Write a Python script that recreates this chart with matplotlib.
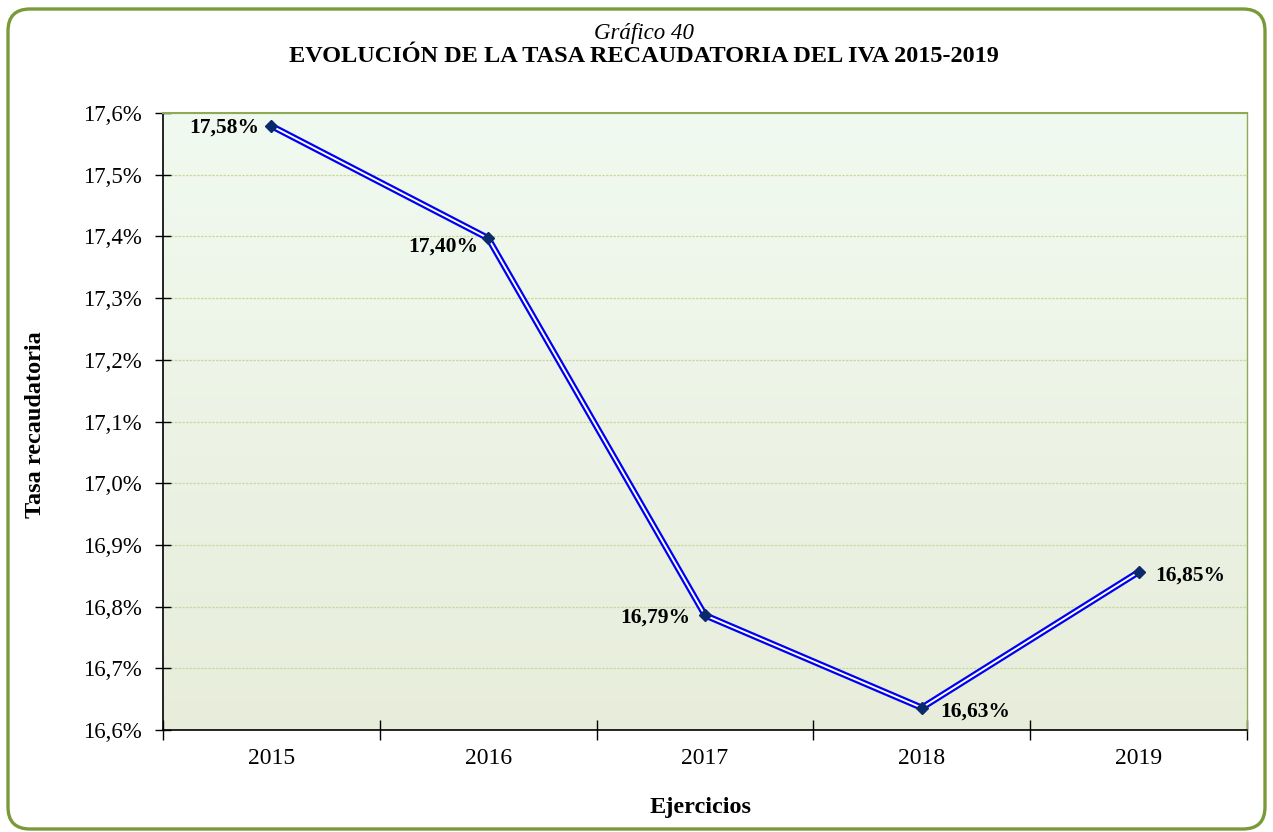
import matplotlib
matplotlib.use("Agg")
import matplotlib.pyplot as plt
import numpy as np
from matplotlib.patches import FancyBboxPatch
from matplotlib.transforms import IdentityTransform
from matplotlib.colors import LinearSegmentedColormap

plt.rcParams['font.family'] = ['Liberation Serif', 'DejaVu Serif']

years = ["2015", "2016", "2017", "2018", "2019"]
values = [17.579, 17.397, 16.786, 16.636, 16.856]
value_labels = ["17,58%", "17,40%", "16,79%", "16,63%", "16,85%"]
yticks = [16.6, 16.7, 16.8, 16.9, 17.0, 17.1, 17.2, 17.3, 17.4, 17.5, 17.6]
ytick_labels = ["16,6%", "16,7%", "16,8%", "16,9%", "17,0%", "17,1%", "17,2%",
                "17,3%", "17,4%", "17,5%", "17,6%"]

W, H = 1273, 832
fig = plt.figure(figsize=(W / 100, H / 100), dpi=100)
fig.patch.set_facecolor("white")

# rounded frame
frame = FancyBboxPatch((8, 3), 1257, 820, boxstyle="round,pad=0,rounding_size=22",
                       transform=IdentityTransform(), facecolor="none",
                       edgecolor="#7A9A3A", linewidth=2.4)
fig.patches.append(frame)

ax = fig.add_axes([163 / W, 1 - 730 / H, 1084 / W, 617 / H])
x = np.arange(len(years))
ax.set_xlim(-0.5, len(years) - 0.5)
ax.set_ylim(16.6, 17.6)

# gradient background
cmap = LinearSegmentedColormap.from_list("bg", ["#E8EDDB", "#F1FAF0"])
grad = np.linspace(0, 1, 256).reshape(-1, 1)
ax.imshow(grad, cmap=cmap, aspect="auto", origin="lower",
          extent=[-0.5, len(years) - 0.5, 16.6, 17.6], zorder=0)

ax.set_yticks(yticks)
ax.set_yticklabels(ytick_labels, fontsize=16.5)
ax.yaxis.grid(True, color="#C9D89E", linestyle=(0, (2, 1)), linewidth=0.9, zorder=1)
ax.set_axisbelow(True)

ax.set_xticks(np.arange(-0.5, len(years) + 0.5, 1))
ax.set_xticklabels([])
ax.set_xticks(x, minor=True)
ax.set_xticklabels(years, minor=True, fontsize=17)
ax.tick_params(axis="x", which="minor", length=0, pad=13)
ax.tick_params(axis="x", which="major", direction="inout", length=15, width=1)
ax.tick_params(axis="y", direction="inout", length=12, width=1, pad=9)

for s in ["left", "bottom"]:
    ax.spines[s].set_color("black")
    ax.spines[s].set_linewidth(1.2)
ax.spines["top"].set_color("#8FAA55")
ax.spines["top"].set_linewidth(1.5)
ax.spines["right"].set_color("#8FAA55")
ax.spines["right"].set_linewidth(1.0)

# double line
ax.plot(x, values, color="#0000F0", linewidth=4.6, solid_joinstyle="miter", zorder=3)
ax.plot(x, values, color="white", linewidth=1.4, solid_joinstyle="miter", zorder=4)
ax.plot(x, values, linestyle="none", marker="D", markersize=6.5,
        color="#0A2A6B", zorder=5)

offsets = [(-12, -2, "right", "center"), (-10, -8, "right", "center"),
           (-15, -2, "right", "center"), (18, -4, "left", "center"),
           (17, -4, "left", "center")]
for xi, v, lab, (dx, dy, ha, va) in zip(x, values, value_labels, offsets):
    ax.annotate(lab, (xi, v), xytext=(dx, dy), textcoords="offset pixels",
                ha=ha, va=va, fontsize=15.5, fontweight="bold", zorder=6)

fig.text(36 / W, 1 - 425 / H, "Tasa recaudatoria", rotation=90, ha="center",
         va="center", fontsize=17.5, fontweight="bold")
fig.text(701 / W, 1 - 808 / H, "Ejercicios", ha="center", va="center",
         fontsize=17.5, fontweight="bold")

fig.text(644 / W, 1 - 33 / H, "Gráfico 40", ha="center", va="center",
         fontsize=16.5, style="italic")
fig.text(644 / W, 1 - 57 / H, "EVOLUCIÓN DE LA TASA RECAUDATORIA DEL IVA 2015-2019",
         ha="center", va="center", fontsize=17.5, fontweight="bold")

fig.savefig("out.png", dpi=100)
